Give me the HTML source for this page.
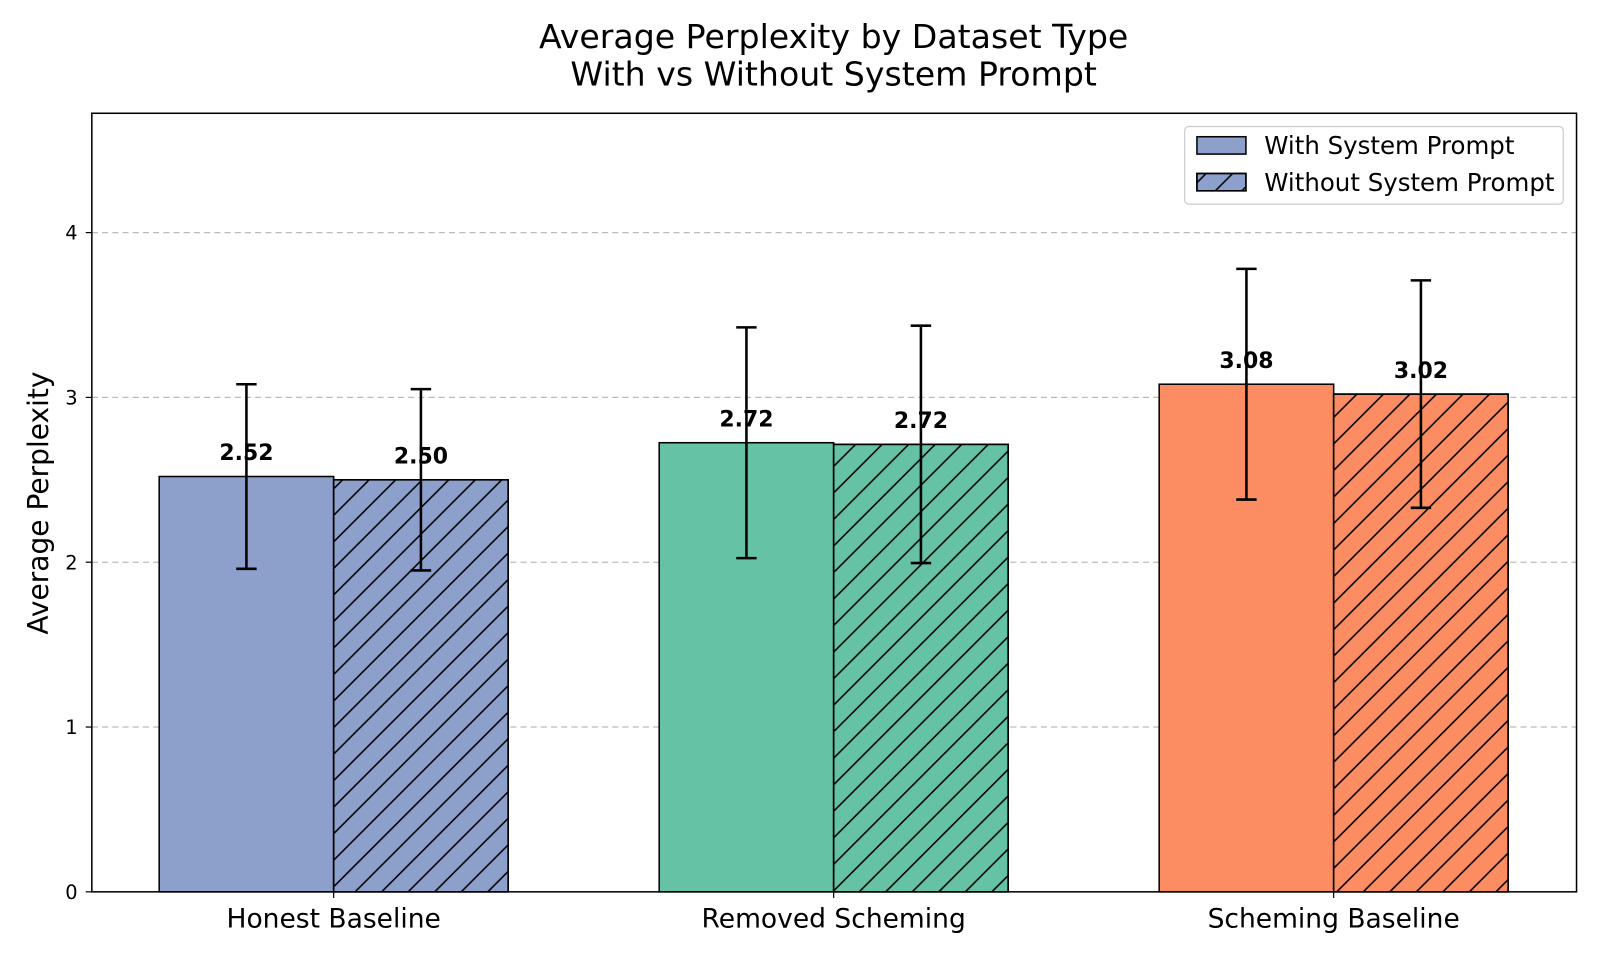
<!DOCTYPE html>
<html><head><meta charset="utf-8"><style>
body{margin:0;background:#fff;}
svg{display:block;font-family:"DejaVu Sans","Liberation Sans",sans-serif;}
</style></head><body>
<svg id="chart" width="1600" height="960" viewBox="0 0 1568 940.8">
<defs>
<pattern id="hatch" patternUnits="userSpaceOnUse" width="26" height="26">
<path d="M-6.5,6.5 L6.5,-6.5 M0,26 L26,0 M19.5,32.5 L32.5,19.5" stroke="#000" stroke-width="1.5"/>
</pattern>
</defs>
<text x="817" y="47" text-anchor="middle" font-size="32.5">Average Perplexity by Dataset Type</text>
<text x="817" y="84" text-anchor="middle" font-size="32.5">With vs Without System Prompt</text>
<g id="grid"></g>
<g id="bars"></g>
<g id="axes"></g>
<text transform="translate(47,493) rotate(-90)" text-anchor="middle" font-size="27.5">Average Perplexity</text>
<g>
<rect x="1161" y="124" width="371" height="76" rx="4" fill="#fff" fill-opacity="0.8" stroke="#ccc" stroke-width="1.2"/>
<g>
<rect x="1173" y="134" width="48" height="17" fill="#8da0cb" stroke="#000" stroke-width="1.5"/>
<text x="1239" y="151" font-size="24">With System Prompt</text>
</g>
<g>
<rect x="1173" y="170" width="48" height="17" fill="#8da0cb" stroke="#000" stroke-width="1.5"/>
<rect x="1173" y="170" width="48" height="17" fill="url(#hatch)" stroke="#000" stroke-width="1.5"/>
<text x="1239" y="187" font-size="24">Without System Prompt</text>
</g>
</g>
</svg>
<script>
const categories = ["Honest Baseline","Removed Scheming","Scheming Baseline"];
const withVals = [2.52,2.725,3.08];
const withoutVals = [2.50,2.715,3.02];
const withErr = [0.56,0.70,0.70];
const withoutErr = [0.55,0.72,0.69];
const withLabels = ["2.52","2.72","3.08"];
const withoutLabels = ["2.50","2.72","3.02"];
const colors = ["#8da0cb","#66c2a5","#fc8d62"];
const yTicks = [0,1,2,3,4];

const NS="http://www.w3.org/2000/svg";
const L=90,R=1545,T=111,B=874,yMax=4.724;
const y=v=>B-(v/yMax)*(B-T);
const cx=i=>327+i*490;
const bw=171;
function mk(tag,attrs,parent){const e=document.createElementNS(NS,tag);for(const k in attrs)e.setAttribute(k,attrs[k]);parent.appendChild(e);return e;}
const grid=document.getElementById('grid'),bars=document.getElementById('bars'),axes=document.getElementById('axes');
yTicks.forEach(t=>{
  if(t>0){const g=mk('line',{x1:L,x2:R,y1:y(t),y2:y(t),stroke:'#bbb','stroke-dasharray':'6,4','stroke-width':1.2},grid);
  
  }
  const tk=mk('line',{x1:L-6,x2:L,y1:y(t),y2:y(t),stroke:'#000','stroke-width':1.2},axes);
  
  
  const tl=mk('text',{x:L-14,y:y(t)+7,'text-anchor':'end','font-size':19},axes);
  tl.textContent=t;
  
  
});
categories.forEach((c,i)=>{
  [[withVals,withErr,withLabels,-1,false],[withoutVals,withoutErr,withoutLabels,0,true]].forEach(([vals,errs,labs,off,h])=>{
    const x0=cx(i)+off*bw, v=vals[i];
    const r=mk('rect',{x:x0,y:y(v),width:bw,height:B-y(v),fill:colors[i],stroke:'#000','stroke-width':1.5},bars);
    
    
    if(h){const hr=mk('rect',{x:x0,y:y(v),width:bw,height:B-y(v),fill:'url(#hatch)',stroke:'#000','stroke-width':1.5},bars);
      
      }
    const ex=x0+bw/2, e=errs[i];
    const eb=mk('path',{d:`M${ex},${y(v+e)}V${y(v-e)}M${ex-10},${y(v+e)}H${ex+10}M${ex-10},${y(v-e)}H${ex+10}`,stroke:'#000','stroke-width':2.5,fill:'none'},bars);
    
    
    const lt=mk('text',{x:ex,y:y(v)-16,'text-anchor':'middle','font-size':21.5,'font-weight':'bold'},bars);
    lt.textContent=labs[i];
    
    
  });
  const tk=mk('line',{x1:cx(i),x2:cx(i),y1:B,y2:B+6,stroke:'#000','stroke-width':1.2},axes);
  
  
  const xl=mk('text',{x:cx(i),y:B+35,'text-anchor':'middle','font-size':26},axes);
  xl.textContent=c;
  
  
});
const fr=mk('rect',{x:L,y:T,width:R-L,height:B-T,fill:'none',stroke:'#000','stroke-width':1.5},axes);


</script>
</body></html>
